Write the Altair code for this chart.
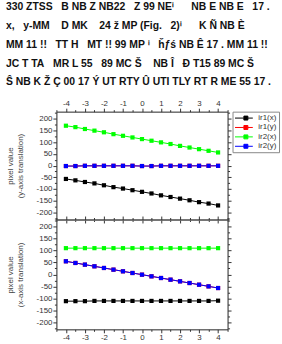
import altair as alt
import pandas as pd

xs = [-4, -3.5, -3, -2.5, -2, -1.5, -1, -0.5, 0, 0.5, 1, 1.5, 2, 2.5, 3, 3.5, 4]
series_names = ["ir1(x)", "ir1(y)", "ir2(x)", "ir2(y)"]
series_colors = ["#000000", "#ff0000", "#00ff00", "#0000ff"]

# top panel (y-axis translation)
top_ir1x = [-57, -63, -70, -76, -84, -92, -98, -105, -112, -119, -127, -134, -141, -148, -156, -162, -170]
top_ir1y = [-2, -2, -1, -1, -1, -1, -1, -1, -2, -2, -1, -1, -1, -1, -1, -1, -1]
top_ir2x = [170, 164, 156, 149, 142, 134, 127, 120, 113, 106, 99, 92, 84, 77, 70, 63, 56]
top_ir2y = [-2, -2, -1, -1, -1, -1, -1, -1, -2, -2, -1, -1, -1, -1, -1, -1, -1]

# bottom panel (x-axis translation)
bot_ir1x = [-112, -112, -112, -111, -111, -111, -111, -111, -111, -111, -111, -111, -111, -111, -111, -111, -110]
bot_ir1y = [55, 48, 41, 34, 27, 20, 13, 6, -1, -8, -15, -22, -29, -36, -43, -50, -57]
bot_ir2x = [110, 110, 110, 110, 110, 110, 110, 110, 110, 110, 110, 110, 110, 110, 110, 110, 110]
bot_ir2y = [55, 48, 41, 34, 27, 20, 13, 6, -1, -8, -15, -22, -29, -36, -43, -50, -57]

N = "\u00a0"
title_lines = [
    "330 ZTSS" + N * 2 + " B NB Z NB22" + N * 2 + " Z 99 NE\u2071" + N * 5 + " NB E NB E" + N * 2 + " 17 .",
    N * 4 + "x," + N * 2 + " y-MM" + N * 3 + " D MK" + N * 3 + " 24 ž MP (Fig." + N * 2 + " 2)\u2071" + N * 5 + " K Ñ NB È",
    "MM 11 !!" + N * 2 + " TT H" + N * 2 + " MT !! 99 MP \u2071" + N * 2 + " ȟƒś NB Ê 17 . MM 11 !!",
    "JC T TA" + N * 2 + " MR L 55" + N * 2 + " 89 MC Š" + N * 3 + " NB Î" + N * 2 + " Ð T15 89 MC Š",
    "Ŝ NB K Ž Ç 00 17 Ý UT RTY Û UTI TLY RT R ME 55 17 .",
]


def frame(names, cols):
    rows = []
    for n, ys in zip(names, cols):
        for x, y in zip(xs, ys):
            rows.append({"x": x, "y": y, "series": n})
    return pd.DataFrame(rows)


top_df = frame(series_names, [top_ir1x, top_ir1y, top_ir2x, top_ir2y])
bot_df = frame(series_names, [bot_ir1x, bot_ir1y, bot_ir2x, bot_ir2y])

color_scale = alt.Scale(domain=series_names, range=series_colors)
# line with a square marker, drawn mostly to the right of the symbol slot
legend_path = "M-1,0H1.25M2.25,0H3.5M1.25,-0.5H2.25V0.5H1.25Z"

xvals = [v / 2 for v in range(-9, 10)]
yvals = list(range(-225, 226, 25))

minor_x = {"condition": {"test": "datum.value % 1 === 0", "value": 3.5}, "value": 2}
minor_y = {"condition": {"test": "datum.value % 50 === 0", "value": 3.5}, "value": 2}

common_axis = dict(
    domain=True, domainColor="#333", tickColor="#333", grid=False,
    labelFont="Liberation Sans", labelFontSize=8, labelColor="#333",
)


def panel(df, ytitle, xlabels_top, height):
    xscale = alt.Scale(domain=[-4.5, 4.5], nice=False)
    yscale = alt.Scale(domain=[-230, 230], nice=False)
    xexpr = "datum.value % 1 === 0 ? '' + datum.value : ''"
    x_top = alt.Axis(orient="top", values=xvals, tickSize=minor_x, labels=xlabels_top,
                     labelExpr=xexpr, title=None, labelPadding=1, **common_axis)
    x_bot = alt.Axis(orient="bottom", values=xvals, tickSize=minor_x, labels=not xlabels_top,
                     labelExpr=xexpr, title=None, labelPadding=1, **common_axis)
    y_left = alt.Axis(orient="left", values=yvals, tickSize=minor_y,
                      labelExpr="datum.value % 50 === 0 ? '' + datum.value : ''",
                      title=ytitle, titleFont="Liberation Sans", titleFontSize=8,
                      titleFontWeight="normal", titleColor="#444", titlePadding=12,
                      titleLineHeight=10, labelPadding=1, **common_axis)
    y_right = alt.Axis(orient="right", values=yvals, tickSize=minor_y, labels=False,
                       title=None, **common_axis)
    color = alt.Color("series:N", scale=color_scale, sort=series_names,
                      legend=alt.Legend(title=None, symbolType=legend_path, symbolSize=64,
                                        symbolStrokeWidth=1, labelFont="Liberation Sans",
                                        labelFontSize=8, labelColor="#333",
                                        strokeColor="#888", padding=2, rowPadding=0.5,
                                        offset=0, labelOffset=15))
    base = alt.Chart(df)
    lines = base.mark_line(strokeWidth=1).encode(
        x=alt.X("x:Q", scale=xscale, axis=x_top),
        y=alt.Y("y:Q", scale=yscale, axis=y_left),
        color=color, detail="series:N",
    )
    pts = base.mark_point(shape="square", filled=True, size=18, opacity=1).encode(
        x=alt.X("x:Q", scale=xscale, axis=x_bot),
        y=alt.Y("y:Q", scale=yscale, axis=y_right),
        color=color,
    )
    return alt.layer(lines, pts).properties(width=173, height=height)


top = panel(top_df, ["pixel value", "(y-axis translation)"], True, 109)
bot = panel(bot_df, ["pixel value", "(x-axis translation)"], False, 111)

chart = alt.vconcat(top, bot, spacing=0, bounds="flush").properties(
    title=alt.TitleParams(text=title_lines, anchor="start",
                          font="Liberation Sans",
                          fontSize=10.5, fontWeight="bold", lineHeight=19, color="#111",
                          offset=11, frame="bounds", limit=278),
    padding={"left": 5, "top": 0, "right": 2, "bottom": 2},
).configure_view(stroke="#333").configure(background="white")

chart.save("out.html", embed_options={"renderer": "svg", "actions": False})
